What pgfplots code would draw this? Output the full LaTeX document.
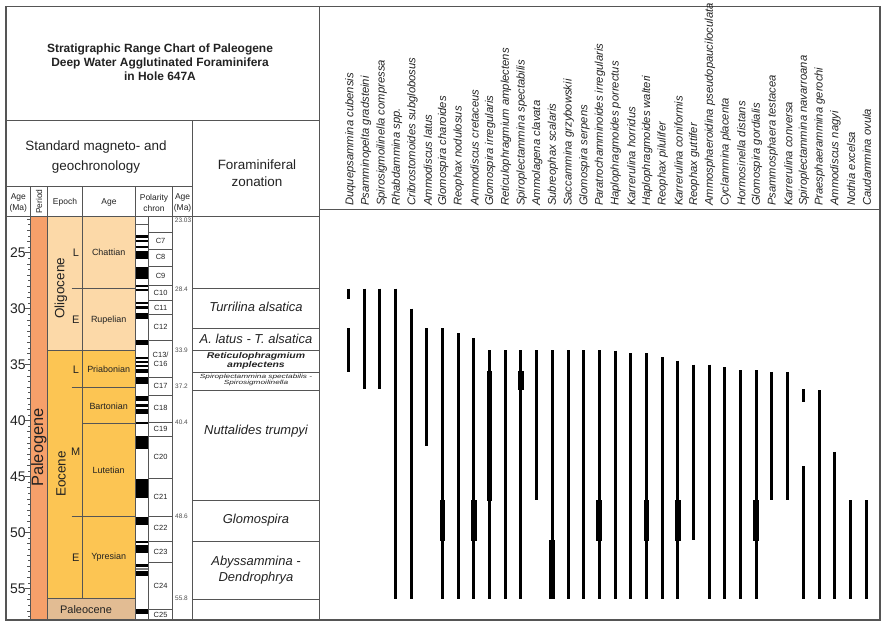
\documentclass[border=0pt]{standalone}
\usepackage{pgfplots}
\pgfplotsset{compat=1.18}
\usepackage{graphicx}
\usepackage{fontspec}
\setmainfont{Liberation Sans}

\definecolor{oligo}{HTML}{FCD9A8}
\definecolor{eoc}{HTML}{FCC553}
\definecolor{paleoc}{HTML}{E2BC93}
\definecolor{paleog}{HTML}{F6A06A}
\definecolor{rule}{HTML}{555555}
\definecolor{txt}{HTML}{222222}

\newcommand\fs[2]{\fontsize{#1}{#2}\selectfont}

% one sheet = the whole picture, x in pixels
\pgfplotsset{
  sheet/.style={at={(0,0)}, anchor=south west, scale only axis,
    width=886bp, height=623bp, xmin=0, xmax=886, hide axis, clip=false},
}
\tikzset{
  frm/.style={draw=rule, line width=1.3bp},
  stgl/.style={draw=rule, line width=0.6bp},
}

\begin{document}
\begin{tikzpicture}
\useasboundingbox (0,0) rectangle (886bp,623bp);

% ---------- age layer: y in Ma ----------
\begin{axis}[sheet, ymin=2.4173, ymax=58.092, y dir=reverse, unbounded coords=jump]
% period / epoch / stage colours
\addplot[fill=paleog, draw=none] coordinates {(30.7,21.76) (47.3,21.76) (47.3,57.82) (30.7,57.82)};
\addplot[fill=oligo, draw=none] coordinates {(47.3,21.76) (135.3,21.76) (135.3,33.76) (47.3,33.76)};
\addplot[fill=eoc, draw=none] coordinates {(47.3,33.76) (135.3,33.76) (135.3,55.88) (47.3,55.88)};
\addplot[fill=paleoc, draw=none] coordinates {(47.3,55.88) (135.3,55.88) (135.3,57.82) (47.3,57.82)};

% stage boundaries
\draw[stgl] (71.7,28.22)--(135.3,28.22) (47.3,33.76)--(135.3,33.76)
  (71.7,37.06)--(135.3,37.06) (82.7,40.26)--(135.3,40.26)
  (71.7,48.6)--(135.3,48.6) (47.3,55.88)--(135.3,55.88);

% polarity chrons (normal = black)
\addplot[black, line width=13.4bp, no marks] coordinates {
(142,23.39) (142,23.70) (142,nan)
(142,23.87) (142,24.04) (142,nan)
(142,24.37) (142,24.61) (142,nan)
(142,24.87) (142,25.56) (142,nan)
(142,26.30) (142,27.35) (142,nan)
(142,27.89) (142,28.04) (142,nan)
(142,28.24) (142,28.40) (142,nan)
(142,29.43) (142,29.58) (142,nan)
(142,29.76) (142,30.00) (142,nan)
(142,30.42) (142,30.95) (142,nan)
(142,32.80) (142,33.22) (142,nan)
(142,34.35) (142,34.53) (142,nan)
(142,34.71) (142,34.83) (142,nan)
(142,35.01) (142,35.19) (142,nan)
(142,35.42) (142,35.78) (142,nan)
(142,36.13) (142,36.73) (142,nan)
(142,37.78) (142,38.23) (142,nan)
(142,38.52) (142,38.76) (142,nan)
(142,38.97) (142,39.41) (142,nan)
(142,40.13) (142,40.34) (142,nan)
(142,41.38) (142,42.57) (142,nan)
(142,45.20) (142,46.89) (142,nan)
(142,48.59) (142,49.36) (142,nan)
(142,50.76) (142,50.92) (142,nan)
(142,51.15) (142,51.86) (142,nan)
(142,52.85) (142,53.06) (142,nan)
(142,53.44) (142,53.89) (142,nan)
(142,56.87) (142,57.31)
};
\addplot[gray, line width=13.4bp, no marks] coordinates {(142,53.15) (142,53.36)};
\draw[stgl] (135.3,22.43)--(148.7,22.43);

% chron label boxes
\draw[stgl] (148.7,23.18)--(172.5,23.18) (148.7,24.67)--(172.5,24.67)
  (148.7,26.22)--(172.5,26.22) (148.7,27.95)--(172.5,27.95)
  (148.7,29.29)--(172.5,29.29) (148.7,30.54)--(172.5,30.54)
  (148.7,32.86)--(172.5,32.86) (148.7,36.13)--(172.5,36.13)
  (148.7,37.78)--(172.5,37.78) (148.7,40.13)--(172.5,40.13)
  (148.7,41.38)--(172.5,41.38) (148.7,45.20)--(172.5,45.20)
  (148.7,48.53)--(172.5,48.53) (148.7,50.76)--(172.5,50.76)
  (148.7,52.70)--(172.5,52.70) (148.7,56.87)--(172.5,56.87);

% zonation boundaries
\draw[draw=rule, line width=0.9bp] (192.7,28.22)--(319.3,28.22) (192.7,31.76)--(319.3,31.76)
  (192.7,33.76)--(319.3,33.76) (192.7,35.69)--(319.3,35.69)
  (192.7,37.27)--(319.3,37.27) (192.7,47.10)--(319.3,47.10)
  (192.7,50.76)--(319.3,50.76) (192.7,55.95)--(319.3,55.95);

% ranges, thin
\addplot[black, line width=3bp, no marks] coordinates {
(348.3,28.2) (348.3,29.15) (348.3,nan) (348.3,31.75) (348.3,35.7) (348.3,nan)
(364.0,28.2) (364.0,37.2) (364.0,nan)
(379.7,28.2) (379.7,37.2) (379.7,nan)
(395.4,28.2) (395.4,55.95) (395.4,nan)
(411.1,30.0) (411.1,55.95) (411.1,nan)
(426.8,31.75) (426.8,42.3) (426.8,nan)
(442.4,31.75) (442.4,55.95) (442.4,nan)
(458.1,32.2) (458.1,55.95) (458.1,nan)
(473.8,32.65) (473.8,55.95) (473.8,nan)
(489.5,33.7) (489.5,55.95) (489.5,nan)
(505.2,33.7) (505.2,55.95) (505.2,nan)
(520.9,33.7) (520.9,55.95) (520.9,nan)
(536.6,33.7) (536.6,47.1) (536.6,nan)
(552.3,33.7) (552.3,55.95) (552.3,nan)
(568.0,33.7) (568.0,55.95) (568.0,nan)
(583.7,33.7) (583.7,55.95) (583.7,nan)
(599.3,33.7) (599.3,55.95) (599.3,nan)
(615.0,33.75) (615.0,55.95) (615.0,nan)
(630.7,34.0) (630.7,55.95) (630.7,nan)
(646.4,34.0) (646.4,55.95) (646.4,nan)
(662.1,34.35) (662.1,55.95) (662.1,nan)
(677.8,34.65) (677.8,55.95) (677.8,nan)
(693.5,35.0) (693.5,50.7) (693.5,nan)
(709.2,35.0) (709.2,55.95) (709.2,nan)
(724.9,35.25) (724.9,55.95) (724.9,nan)
(740.6,35.5) (740.6,55.95) (740.6,nan)
(756.3,35.5) (756.3,55.95) (756.3,nan)
(771.9,35.65) (771.9,47.1) (771.9,nan)
(787.6,35.65) (787.6,47.1) (787.6,nan)
(803.3,37.2) (803.3,38.3) (803.3,nan) (803.3,44.1) (803.3,55.95) (803.3,nan)
(819.0,37.3) (819.0,55.95) (819.0,nan)
(834.7,42.8) (834.7,55.95) (834.7,nan)
(850.4,47.1) (850.4,55.95) (850.4,nan)
(866.1,47.1) (866.1,55.95)
};
% ranges, abundant
\addplot[black, line width=5.8bp, no marks] coordinates {
(442.4,47.1) (442.4,50.75) (442.4,nan)
(473.8,47.1) (473.8,50.75) (473.8,nan)
(489.5,35.6) (489.5,47.15) (489.5,nan)
(520.9,35.6) (520.9,37.3) (520.9,nan)
(552.3,50.7) (552.3,55.95) (552.3,nan)
(599.3,47.1) (599.3,50.75) (599.3,nan)
(646.4,47.1) (646.4,50.75) (646.4,nan)
(677.8,47.1) (677.8,50.75) (677.8,nan)
(756.3,47.1) (756.3,50.75)
};
\end{axis}

% ---------- age scale ----------
\begin{axis}[at={(6bp,0)}, anchor=south west, scale only axis,
  width=24.7bp, height=623bp, xmin=0, xmax=1,
  ymin=2.4173, ymax=58.092, y dir=reverse,
  axis x line=none, axis y line*=right, axis line style={draw=none},
  tick align=inside, ytick={25,30,...,55},
  minor ytick={22,22.5,...,57.5},
  extra y ticks={22,23,24,26,27,28,29,31,32,33,34,36,37,38,39,41,42,43,44,46,47,48,49,51,52,53,54,56,57},
  extra y tick labels={},
  extra y tick style={major tick length=4bp},
  major tick length=6bp, minor tick length=2.5bp,
  every tick/.style={draw=rule, line width=0.5bp},
  yticklabel style={anchor=east, xshift=-1.5bp, font=\fs{14}{14}, text=txt},
  /pgf/number format/assume math mode=true]
\addplot[draw=none] coordinates {(0,25) (1,55)};
\end{axis}

% ---------- pixel layer: frames and text ----------
\begin{axis}[sheet, ymin=0, ymax=623, y dir=reverse]
\draw[frm] (6,6.7) rectangle (880,620);
\draw[frm] (319.3,6.7)--(319.3,620) (6,120.7)--(319.3,120.7)
  (192.7,120.7)--(192.7,620) (6,186.7)--(192.7,186.7)
  (6,216.5)--(319.3,216.5) (319.3,209.5)--(880,209.5);
\draw[frm] (30.7,186.7)--(30.7,620) (47.3,186.7)--(47.3,620)
  (82.7,186.7)--(82.7,598.3) (135.3,186.7)--(135.3,620)
  (172.5,186.7)--(172.5,620) (148.7,216.5)--(148.7,620);

\node[font=\bfseries\fs{12}{14.2}, align=center, text=txt] at (160,62.5)
  {Stratigraphic Range Chart of Paleogene\\Deep Water Agglutinated Foraminifera\\in Hole 647A};
\node[font=\fs{13.5}{20}, align=center, text=txt] at (96,156.7) {Standard magneto- and\\geochronology};
\node[font=\fs{13.5}{16.7}, align=center, text=txt] at (257,173.3) {Foraminiferal\\zonation};

\begin{scope}[every node/.style={font=\fs{8.5}{10.6}, align=center, text=txt}]
\node at (18.3,203) {Age\\(Ma)};
\node[rotate=90] at (39,201.7) {Period};
\node at (65,202.3) {Epoch};
\node at (109,202.3) {Age};
\node at (154,203) {Polarity\\chron};
\node at (182.6,203) {Age\\(Ma)};
\end{scope}

\node[rotate=90, font=\fs{16.5}{16.5}, text=txt] at (38.8,447.5) {Paleogene};
\node[rotate=90, font=\fs{13.5}{13.5}, text=txt] at (61,288.3) {Oligocene};
\node[rotate=90, font=\fs{13.5}{13.5}, text=txt] at (61,474) {Eocene};
\begin{scope}[every node/.style={font=\fs{11}{11}, text=txt}]
\node at (75.8,252.7) {L};
\node at (75.8,320) {E};
\node at (75.8,369.3) {L};
\node at (75.8,451.7) {M};
\node at (75.8,557.3) {E};
\node at (86,610) {Paleocene};
\end{scope}
\begin{scope}[every node/.style={font=\fs{9}{9}, text=txt}]
\node at (108.7,252.7) {Chattian};
\node at (108.7,320) {Rupelian};
\node at (108.7,369.3) {Priabonian};
\node at (108.7,406) {Bartonian};
\node at (108.7,470.7) {Lutetian};
\node at (108.7,557.3) {Ypresian};
\end{scope}
\begin{scope}[every node/.style={font=\fs{7.5}{7.5}, text=txt}]
\node at (160.6,241.3) {C7};
\node at (160.6,257.3) {C8};
\node at (160.6,275.7) {C9};
\node at (160.6,293.3) {C10};
\node at (160.6,308.3) {C11};
\node at (160.6,327.3) {C12};
\node at (160.6,354.7) {C13/};
\node at (160.6,364) {C16};
\node at (160.6,385.7) {C17};
\node at (160.6,408) {C18};
\node at (160.6,429) {C19};
\node at (160.6,457) {C20};
\node at (160.6,497.3) {C21};
\node at (160.6,528.3) {C22};
\node at (160.6,551.7) {C23};
\node at (160.6,586) {C24};
\node at (160.6,615.3) {C25};
\end{scope}
\begin{scope}[every node/.style={font=\fs{6.5}{6.5}, text=black!70}]
\node at (183,220.7) {23.03};
\node at (181.5,289) {28.4};
\node at (181.5,350.7) {33.9};
\node at (181.5,386.7) {37.2};
\node at (181.5,422) {40.4};
\node at (181.5,516.7) {48.6};
\node at (181.5,598.7) {55.8};
\end{scope}

% zones
\begin{scope}[every node/.style={font=\itshape\fs{13}{16.6}, align=center, text=txt}]
\node at (256,307.3) {Turrilina alsatica};
\node at (256,339.3) {A. latus - T. alsatica};
\node at (256,430.7) {Nuttalides trumpyi};
\node at (256,520) {Glomospira};
\node at (256,570) {Abyssammina -\\Dendrophrya};
\end{scope}
\node[text=txt] at (256,360.5) {\scalebox{1}[0.8]{\parbox{4cm}{\centering\bfseries\itshape\fs{10.5}{11}Reticulophragmium\\amplectens}}};
\node[text=txt] at (256,380.3) {\scalebox{1}[0.72]{\parbox{5cm}{\centering\itshape\fs{8.3}{7.6}Spiroplectammina spectabilis -\\Spirosigmoilinella}}};

% species
\begin{scope}[every node/.style={rotate=90, anchor=west, inner sep=0pt, font=\itshape\fs{11.3}{11.3}, text=txt}]
\node at (350.5,206) {Duquepsammina cubensis};
\node at (366.0,206) {Psamminopelta gradsteini};
\node at (381.7,206) {Spirosigmoilinella compressa};
\node at (397.0,206) {Rhabdammina spp.};
\node at (412.5,206) {Cribrostomoides subglobosus};
\node at (427.8,206) {Ammodiscus latus};
\node at (443.2,206) {Glomospira charoides};
\node at (458.8,206) {Reophax nodulosus};
\node at (474.5,206) {Ammodiscus cretaceus};
\node at (490.2,206) {Glomospira irregularis};
\node at (505.9,206) {Reticulophragmium amplectens};
\node at (521.6,206) {Spiroplectammina spectabilis};
\node at (537.3,206) {Ammolagena clavata};
\node at (553.0,206) {Subreophax scalaris};
\node at (568.7,206) {Saccammina grzybowskii};
\node at (584.4,206) {Glomospira serpens};
\node at (600.0,206) {Paratrochamminoides irregularis};
\node at (615.7,206) {Haplophragmoides porrectus};
\node at (631.4,206) {Karrerulina horridus};
\node at (647.1,206) {Haplophragmoides walteri};
\node at (662.8,206) {Reophax pilulifer};
\node at (678.5,206) {Karrerulina coniformis};
\node at (694.2,206) {Reophax guttifer};
\node at (709.9,206) {Ammosphaeroidina pseudopauciloculata};
\node at (725.6,206) {Cyclammina placenta};
\node at (741.3,206) {Hormosinella distans};
\node at (757.0,206) {Glomospira gordialis};
\node at (772.6,206) {Psammosphaera testacea};
\node at (788.3,206) {Karrerulina conversa};
\node at (804.0,206) {Spiroplectammina navarroana};
\node at (819.7,206) {Praesphaerammina gerochi};
\node at (835.4,206) {Ammodiscus nagyi};
\node at (851.1,206) {Nothia excelsa};
\node at (866.8,206) {Caudammina ovula};
\end{scope}
\end{axis}
\end{tikzpicture}
\end{document}
